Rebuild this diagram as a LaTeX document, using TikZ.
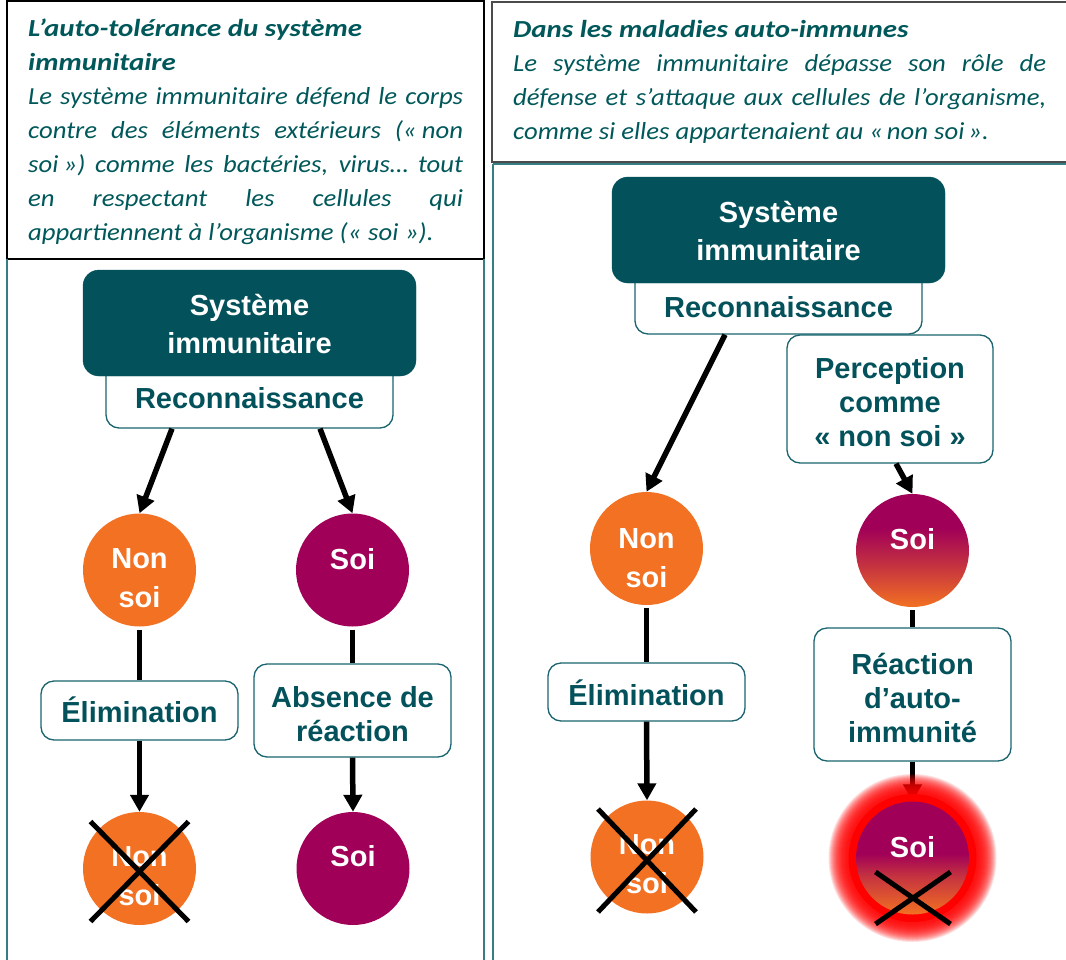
\documentclass[tikz,border=0pt]{standalone}
\usepackage{graphicx}
\usepackage{fontspec}
\setmainfont{Liberation Sans}
\newfontfamily\hdrfont{Carlito}
\usetikzlibrary{arrows.meta,calc}
\definecolor{tealdk}{RGB}{3,82,91}
\definecolor{tealtxt}{RGB}{0,88,90}
\definecolor{tealline}{RGB}{25,100,110}
\definecolor{panelline}{RGB}{55,125,132}
\definecolor{orng}{RGB}{242,113,34}
\definecolor{magn}{RGB}{160,0,88}
\definecolor{hdrgray}{RGB}{75,75,75}
\pgfdeclareverticalshading{soigradA}{100bp}{color(0bp)=(orng); color(25bp)=(orng); color(45bp)=(magn!60!orng); color(60bp)=(magn); color(100bp)=(magn)}
\pgfdeclareverticalshading{soigradB}{100bp}{color(0bp)=(orng); color(25bp)=(orng); color(42bp)=(magn!55!orng); color(52bp)=(magn); color(100bp)=(magn)}
\pgfdeclarelayer{glow}
\pgfdeclarelayer{top}
\pgfsetlayers{main,glow,top}
\newcommand{\ml}[1]{\begin{tabular}[t]{@{}c@{}}#1\end{tabular}}
\newcommand{\ttl}[1]{\hbox{\scalebox{1.083}[1]{\bfseries #1}}}
\begin{document}
\begin{tikzpicture}[x=1pt,y=-1pt,
  wbox/.style={draw=tealline, line width=1.3pt, fill=white, rounded corners=13pt, text=tealdk, inner sep=0pt, font=\bfseries\fontsize{29}{34}\selectfont},
  tbox/.style={draw=tealdk, fill=tealdk, rounded corners=16pt, text=white, inner sep=0pt, minimum width=333pt, minimum height=106pt, font=\bfseries\fontsize{29}{38}\selectfont},
  circ/.style={circle, minimum size=113pt, inner sep=0pt, text=white, font=\bfseries\fontsize{29}{39}\selectfont},
  tb/.style 2 args={text height=#1pt, text depth=#2pt},
  ln/.style={line width=5.5pt, black},
  arr/.style={line width=5.5pt, black, -{Triangle[length=17pt,width=18pt]}},
  cross/.style={line width=5pt, black},
  hdr/.style={anchor=base west, inner sep=0pt, text=tealtxt, font=\hdrfont\itshape\fontsize{24.5}{34}\selectfont}
]
\useasboundingbox (0,0) rectangle (1066,959);
\fill[white] (0,0) rectangle (1066,959);

% panels
\draw[black, line width=1.3pt] (7,1) rectangle (484,259);
\draw[panelline, line width=1.4pt] (7,259) -- (7,962);
\draw[panelline, line width=1.4pt] (484,259) -- (484,962);
\draw[hdrgray, line width=2pt] (492,1.5) rectangle (1070,162);
\draw[panelline, line width=1.5pt] (493,164) -- (1070,164);
\draw[panelline, line width=1.4pt] (493,164) -- (493,962);

% headers
\node[hdr] (hdrL) at (28,36) {\scalebox{1.09}[1]{\parbox[t]{399pt}{%
\ttl{L’auto-tolérance du système}%
\ttl{immunitaire}%
\hbox to 399pt{Le système immunitaire défend le corps}%
\hbox to 399pt{contre des éléments extérieurs («\kern.2em non}%
\hbox to 399pt{soi\kern.2em») comme les bactéries, virus… tout}%
\hbox to 399pt{en respectant les cellules qui}%
\hbox{appartiennent à l’organisme («\kern.25em soi\kern.25em»).}}}};
\node[hdr] (hdrR) at (513,37) {\scalebox{1.09}[1]{\parbox[t]{489pt}{%
\ttl{Dans les maladies auto-immunes}%
\hbox to 489pt{Le système immunitaire dépasse son rôle de}%
\hbox to 489pt{défense et s’attaque aux cellules de l’organisme,}%
\hbox{comme si elles appartenaient au «\kern.15em non soi\kern.15em».}}}};

% left diagram
\node[wbox, minimum width=287pt, minimum height=78pt, tb={40}{2}] (recoL) at (249.5,389) {Reconnaissance};
\node[tbox, tb={25}{41}] (sysL) at (249.5,323) {\ml{Système\\immunitaire}};
\node[circ, fill=orng, tb={25}{29}] (nonsoiL) at (139.5,570) {\ml{Non\\soi}};
\node[circ, fill=magn, tb={25}{27}] (soiL) at (352.5,570) {Soi};
\node[wbox, minimum width=197pt, minimum height=59pt, tb={25}{2}] (elimL) at (139.5,710.5) {Élimination};
\node[wbox, minimum width=197pt, minimum height=93pt, tb={25}{32}] (absL) at (352.5,710.5) {\ml{Absence de\\réaction}};
\node[circ, fill=orng, tb={25}{30}] (nonsoiL2) at (139.5,868.5) {\ml{Non\\soi}};
\node[circ, fill=magn, tb={25}{30}] (soiL2) at (353,868.5) {Soi};

\draw[arr] ($(recoL.south)+(-77.5,0)$) -- (nonsoiL.north);
\draw[arr] ($(recoL.south)+(70.5,0)$) -- (soiL.north);
\draw[ln, shorten <=3pt] (nonsoiL.south) -- (elimL.north);
\draw[ln, shorten <=3pt] (soiL.south) -- (absL.north);
\draw[arr] (elimL.south) -- (nonsoiL2.north);
\draw[arr] (absL.south) -- (soiL2.north);
\draw[cross] ($(nonsoiL2.center)+(-49,-47)$) -- ($(nonsoiL2.center)+(49,53)$);
\draw[cross] ($(nonsoiL2.center)+(-49,53)$) -- ($(nonsoiL2.center)+(49,-47)$);

% right diagram
\node[wbox, minimum width=287pt, minimum height=77pt, tb={45}{2}] (recoR) at (778.5,295.5) {Reconnaissance};
\node[tbox, tb={25}{41}] (sysR) at (778.5,230) {\ml{Système\\immunitaire}};
\node[wbox, minimum width=206pt, minimum height=128pt, tb={25}{67}] (percR) at (890,399) {\ml{Perception\\comme\\«~non soi~»}};
\node[circ, fill=orng, tb={25}{26}] (nonsoiR) at (646.5,548.5) {\ml{Non\\soi}};
\node[circ, shade, shading=soigradA, tb={25}{28}] (soiR) at (912.5,550.5) {Soi};
\node[wbox, minimum width=197pt, minimum height=58pt, tb={28}{2}] (elimR) at (646.5,692) {Élimination};
\node[wbox, minimum width=197pt, minimum height=133pt, tb={25}{66}] (reacR) at (912.5,694.5) {\ml{Réaction\\d’auto-\\immunité}};
\node[circ, fill=orng, tb={25}{31}] (nonsoiR2) at (647,857) {\ml{Non\\soi}};
\coordinate (soiR2c) at (912.5,858);
\begin{pgfonlayer}{glow}
\foreach \r in {66,...,84} \fill[red, opacity=0.12] (soiR2c) circle[radius=\r pt];
\fill[red] (soiR2c) circle[radius=64pt];
\end{pgfonlayer}
\begin{pgfonlayer}{top}
\node[circ, shade, shading=soigradB, tb={25}{27}] (soiR2) at (soiR2c) {Soi};
\draw[cross] ($(soiR2.center)+(-37,14)$) -- ($(soiR2.center)+(38,66)$);
\draw[cross] ($(soiR2.center)+(-37,66)$) -- ($(soiR2.center)+(38,14)$);
\end{pgfonlayer}

\draw[arr] ($(recoR.south)+(-53.5,0)$) -- (nonsoiR.north);
\draw[arr] ($(percR.south)+(6,0)$) -- (soiR.north);
\draw[ln, shorten <=3pt] (nonsoiR.south) -- (elimR.north);
\draw[ln, shorten <=3pt] (soiR.south) -- (reacR.north);
\draw[arr] (elimR.south) -- (nonsoiR2.north);
\draw[arr] (reacR.south) -- (soiR2.north);
\draw[cross] ($(nonsoiR2.center)+(-49,-48)$) -- ($(nonsoiR2.center)+(49,55)$);
\draw[cross] ($(nonsoiR2.center)+(-49,55)$) -- ($(nonsoiR2.center)+(49,-48)$);
\end{tikzpicture}
\end{document}
